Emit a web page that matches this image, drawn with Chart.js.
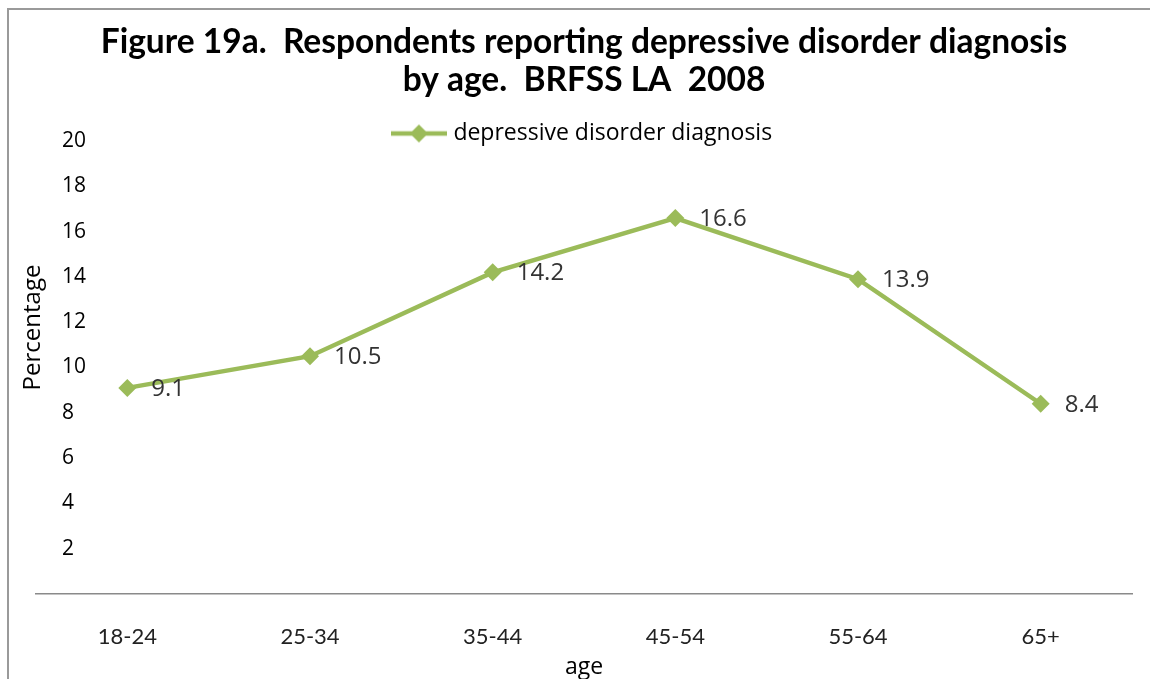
<!DOCTYPE html>
<html>
<head>
<meta charset="utf-8">
<script src="https://cdn.jsdelivr.net/npm/chart.js@4"></script>
<style>
  html, body { margin: 0; padding: 0; background: #fff; }
  #wrap { position: relative; width: 1150px; height: 679px; }
</style>
</head>
<body>
<div id="wrap"><canvas id="chart" width="1150" height="679"></canvas></div>
<script>
// Data
const ageGroups = ['18-24', '25-34', '35-44', '45-54', '55-64', '65+'];
const depressionPct = [9.1, 10.5, 14.2, 16.6, 13.9, 8.4];
const seriesName = 'depressive disorder diagnosis';
const titleLines = ['Figure 19a.  Respondents reporting depressive disorder diagnosis', 'by age.  BRFSS LA  2008'];

const GREEN = '#9bbb59';

// Legend marker: short line with a diamond in the middle
function legendMarker() {
    const c = document.createElement('canvas');
    c.width = 56;
    c.height = 20;
    const g = c.getContext('2d');
    g.strokeStyle = GREEN;
    g.lineWidth = 4.5;
    g.beginPath();
    g.moveTo(0, 10);
    g.lineTo(56, 10);
    g.stroke();
    g.fillStyle = GREEN;
    g.beginPath();
    g.moveTo(28 - 9, 10);
    g.lineTo(28, 1);
    g.lineTo(28 + 9, 10);
    g.lineTo(28, 19);
    g.closePath();
    g.fill();
    return c;
}
const marker = legendMarker();

// Outer frame (left and top edges)
const framePlugin = {
    id: 'frame',
    beforeDraw(chart) {
        const ctx = chart.ctx;
        ctx.save();
        ctx.strokeStyle = '#9a9a9a';
        ctx.lineWidth = 2;
        ctx.beginPath();
        ctx.moveTo(8, chart.height);
        ctx.lineTo(8, 9);
        ctx.lineTo(chart.width, 9);
        ctx.stroke();
        ctx.restore();
    }
};

// Let the legend sit a little lower, overlapping the empty top of the plot
const legendNudge = {
    id: 'legendNudge',
    afterLayout(chart) {
        if (chart.legend) {
            chart.legend.top += 14;
            chart.legend.bottom += 14;
        }
    }
};

// Y axis title, drawn over the left edge of the plot area
const yTitlePlugin = {
    id: 'yTitle',
    afterDraw(chart) {
        const ctx = chart.ctx;
        const area = chart.chartArea;
        ctx.save();
        ctx.translate(33, (area.top + area.bottom) / 2 - 40);
        ctx.rotate(-Math.PI / 2);
        ctx.font = '24px "Open Sans"';
        ctx.fillStyle = '#000';
        ctx.textAlign = 'center';
        ctx.textBaseline = 'middle';
        ctx.fillText('Percentage', 0, 0);
        ctx.restore();
    }
};

// Value labels to the right of each point
const valueLabels = {
    id: 'valueLabels',
    afterDatasetsDraw(chart) {
        const ctx = chart.ctx;
        const meta = chart.getDatasetMeta(0);
        const values = chart.data.datasets[0].data;
        ctx.save();
        ctx.font = '24px "Open Sans"';
        ctx.fillStyle = '#333';
        ctx.textAlign = 'left';
        ctx.textBaseline = 'middle';
        meta.data.forEach((pt, i) => {
            ctx.fillText(values[i].toFixed(1), pt.x + 24, pt.y + 1);
        });
        ctx.restore();
    }
};

new Chart(document.getElementById('chart'), {
    type: 'line',
    data: {
        labels: ageGroups,
        datasets: [{
            label: seriesName,
            data: depressionPct,
            borderColor: GREEN,
            backgroundColor: GREEN,
            borderWidth: 4.5,
            pointStyle: 'rectRot',
            pointRadius: 9,
            pointHoverRadius: 9,
            pointBackgroundColor: GREEN,
            pointBorderWidth: 0,
            tension: 0,
            fill: false,
        }],
    },
    options: {
        responsive: false,
        animation: false,
        layout: { padding: { left: 36, right: 18, top: 0, bottom: 0 } },
        plugins: {
            title: {
                display: true,
                fullSize: false,
                text: titleLines,
                color: '#000',
                font: { family: 'Lato', size: 33.5, weight: 'bold', lineHeight: 38 / 33.5 },
                padding: { top: 23, bottom: 9 },
            },
            legend: {
                display: true,
                fullSize: false,
                position: 'top',
                labels: {
                    usePointStyle: true,
                    pointStyleWidth: 46,
                    padding: 0,
                    color: '#404040',
                    font: { family: 'Open Sans', size: 23 },
                    generateLabels: () => [{
                        text: seriesName,
                        pointStyle: marker,
                        fillStyle: GREEN,
                        strokeStyle: GREEN,
                        lineWidth: 0,
                        datasetIndex: 0,
                    }],
                },
            },
            tooltip: { enabled: false },
        },
        scales: {
            x: {
                offset: true,
                grid: { display: false, drawTicks: false },
                border: { display: true, color: '#8a8a8a', width: 1.5 },
                ticks: {
                    padding: 30,
                    color: '#222',
                    font: { family: 'Lato', size: 22 },
                    maxRotation: 0,
                },
                title: {
                    display: true,
                    text: 'age',
                    color: '#000',
                    font: { family: 'Open Sans', size: 23, lineHeight: 1 },
                    padding: { top: 0, bottom: 0 },
                },
                afterFit(scale) { scale.height = 85; },
            },
            y: {
                min: 0,
                max: 20,
                grid: { display: false, drawTicks: false },
                border: { display: false },
                ticks: {
                    stepSize: 2,
                    mirror: true,
                    padding: 26,
                    color: '#000',
                    font: { family: 'Open Sans', size: 21 },
                    callback: v => (v === 0 ? '' : v),
                },
                afterFit(scale) { scale.width = 0; },
            },
        },
    },
    plugins: [framePlugin, legendNudge, yTitlePlugin, valueLabels],
});
</script>
</body>
</html>
